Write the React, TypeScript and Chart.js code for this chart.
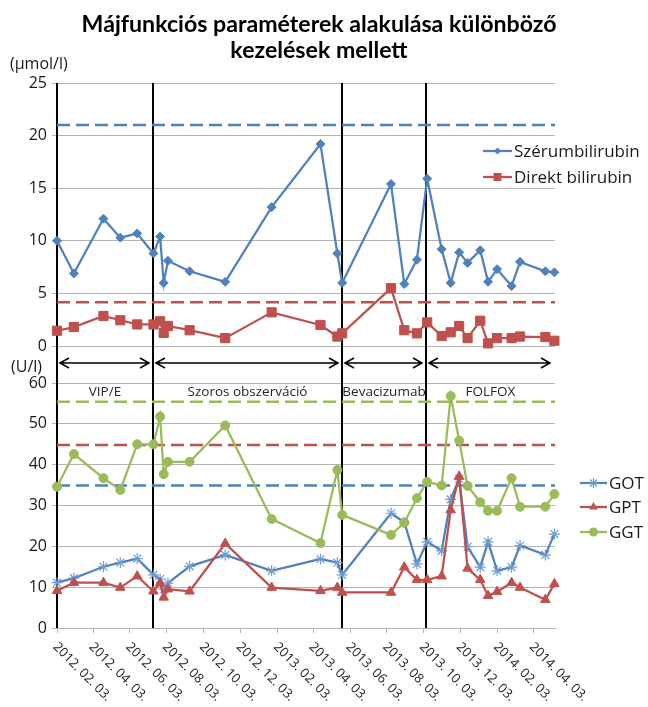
import React, { useEffect, useRef } from "react";
import { Chart, registerables } from "chart.js";
Chart.register(...registerables);

// ---------- data ----------
const sampleDates = [
  "2012-02-03", "2012-03-02", "2012-04-20", "2012-05-18", "2012-06-15",
  "2012-07-12", "2012-07-23", "2012-07-29", "2012-08-05", "2012-09-10",
  "2012-11-08", "2013-01-24", "2013-04-15", "2013-05-13", "2013-05-21",
  "2013-08-10", "2013-09-01", "2013-09-22", "2013-10-09", "2013-11-02",
  "2013-11-17", "2013-12-01", "2013-12-15", "2014-01-05", "2014-01-18",
  "2014-02-02", "2014-02-26", "2014-03-12", "2014-04-23", "2014-05-08",
];
const serumBilirubin = [10.0, 6.9, 12.1, 10.3, 10.7, 8.8, 10.4, 6.0, 8.1, 7.1, 6.1, 13.2, 19.2, 8.8, 6.0, 15.4, 5.9, 8.2, 15.9, 9.2, 6.0, 8.9, 7.9, 9.1, 6.1, 7.3, 5.7, 8.0, 7.1, 7.0];
const directBilirubin = [1.45, 1.8, 2.85, 2.45, 2.05, 2.05, 2.35, 1.25, 1.9, 1.5, 0.75, 3.2, 2.0, 0.9, 1.2, 5.5, 1.5, 1.2, 2.25, 0.95, 1.3, 1.9, 0.75, 2.4, 0.25, 0.75, 0.75, 0.9, 0.85, 0.5];
const got = [11.1, 12.2, 15.0, 16.0, 17.0, 13.0, 12.0, 9.5, 11.0, 15.1, 17.9, 14.0, 16.9, 16.0, 13.0, 28.1, 25.9, 15.7, 21.1, 18.9, 31.5, 36.5, 19.9, 14.9, 21.1, 14.0, 14.9, 20.2, 17.9, 23.0];
const gpt = [9.1, 11.1, 11.1, 9.9, 12.7, 9.0, 11.0, 7.5, 9.5, 9.0, 20.7, 9.9, 9.1, 9.9, 8.7, 8.7, 14.9, 11.8, 11.8, 12.7, 28.9, 37.1, 14.6, 11.8, 7.9, 8.9, 11.1, 9.9, 6.9, 10.8];
const ggt = [34.6, 42.6, 36.7, 33.8, 45.0, 45.0, 51.8, 37.7, 40.7, 40.7, 49.6, 26.7, 20.8, 38.7, 27.7, 22.8, 25.8, 31.8, 35.8, 34.9, 56.8, 45.9, 34.8, 30.8, 28.7, 28.7, 36.7, 29.7, 29.7, 32.8];

// reference (upper limit) levels
const serumLimit = 21;
const directLimit = 4.15;
const ggtLimit = 55.4;
const gptLimit = 44.8;
const gotLimit = 34.9;

const periodStarts = ["2012-02-03", "2012-07-12", "2013-05-20", "2013-10-07"];
const periodLabels = ["VIP/E", "Szoros obszerváció", "Bevacizumab", "FOLFOX"];
const xTickLabels = [
  "2012. 02. 03.", "2012. 04. 03.", "2012. 06. 03.", "2012. 08. 03.", "2012. 10. 03.",
  "2012. 12. 03.", "2013. 02. 03.", "2013. 04. 03.", "2013. 06. 03.", "2013. 08. 03.",
  "2013. 10. 03.", "2013. 12. 03.", "2014. 02. 03.", "2014. 04. 03.",
];
const axisStart = "2012-02-03";
const axisEnd = "2014-05-09";

const titleLines = ["Májfunkciós paraméterek alakulása különböző", "kezelések mellett"];
const topUnit = "(µmol/l)";
const bottomUnit = "(U/l)";

// ---------- helpers ----------
const ORIGIN = Date.UTC(2012, 1, 3);
const day = (s: string) => {
  const [y, m, d] = s.split(/[-. ]+/).filter(Boolean).map(Number);
  return Math.round((Date.UTC(y, m - 1, d) - ORIGIN) / 86400000);
};
const xMin = day(axisStart);
const xMax = day(axisEnd);

const BLUE = "#4f81bd";
const RED = "#c0504d";
const GREEN = "#9bbb59";
const STAR = "#6f9bd3";
const GRID = "#b4b4b4";
const TEXT = "#1a1a1a";
const FONT = "'Open Sans', sans-serif";

const series = (vals: number[]) => sampleDates.map((d, i) => ({ x: day(d), y: vals[i] }));
const refLine = (v: number, color: string) => ({
  label: "",
  data: [{ x: xMin, y: v }, { x: xMax, y: v }],
  borderColor: color,
  borderWidth: 2.5,
  borderDash: [13, 6],
  pointRadius: 0,
  order: 10,
  clip: false as any,
});

function drawLegendItem(ctx: CanvasRenderingContext2D, x1: number, x2: number, y: number, color: string, marker: string, text: string, mColor?: string) {
  ctx.save();
  ctx.strokeStyle = color;
  ctx.lineWidth = 2.25;
  ctx.beginPath();
  ctx.moveTo(x1, y);
  ctx.lineTo(x2, y);
  ctx.stroke();
  const cx = (x1 + x2) / 2;
  ctx.fillStyle = color;
  ctx.beginPath();
  if (marker === "diamond") {
    const r = 3.5;
    ctx.moveTo(cx - r, y); ctx.lineTo(cx, y - r); ctx.lineTo(cx + r, y); ctx.lineTo(cx, y + r); ctx.closePath(); ctx.fill();
  } else if (marker === "square") {
    ctx.rect(cx - 4, y - 4, 8, 8); ctx.fill();
  } else if (marker === "triangle") {
    const r = 5;
    ctx.moveTo(cx, y - r); ctx.lineTo(cx + r * 0.866, y + r / 2); ctx.lineTo(cx - r * 0.866, y + r / 2); ctx.closePath(); ctx.fill();
  } else if (marker === "circle") {
    ctx.arc(cx, y, 4.5, 0, Math.PI * 2); ctx.fill();
  } else if (marker === "star") {
    ctx.strokeStyle = mColor || color;
    ctx.lineWidth = 1.2;
    const r = 5;
    for (let k = 0; k < 4; k++) {
      const a = (k * Math.PI) / 4;
      ctx.moveTo(cx - Math.cos(a) * r, y - Math.sin(a) * r);
      ctx.lineTo(cx + Math.cos(a) * r, y + Math.sin(a) * r);
    }
    ctx.stroke();
  }
  ctx.fillStyle = TEXT;
  ctx.font = `17px ${FONT}`;
  ctx.textAlign = "left";
  ctx.textBaseline = "middle";
  ctx.fillText(text, x2 + 2, y + 1);
  ctx.restore();
}

function drawVerticals(chart: any, yFrom: number, yTo: number) {
  const ctx = chart.ctx as CanvasRenderingContext2D;
  const xs = chart.scales.x;
  ctx.save();
  ctx.strokeStyle = "#000";
  ctx.lineWidth = 2;
  periodStarts.forEach((d) => {
    const px = Math.round(xs.getPixelForValue(day(d)));
    ctx.beginPath();
    ctx.moveTo(px, yFrom);
    ctx.lineTo(px, yTo);
    ctx.stroke();
  });
  ctx.restore();
}

function drawArrow(ctx: CanvasRenderingContext2D, a: number, b: number, y: number) {
  ctx.save();
  ctx.strokeStyle = "#000";
  ctx.lineWidth = 1.5;
  ctx.beginPath();
  ctx.moveTo(a, y); ctx.lineTo(b, y);
  ctx.moveTo(a + 9, y - 5); ctx.lineTo(a, y); ctx.lineTo(a + 9, y + 5);
  ctx.moveTo(b - 9, y - 5); ctx.lineTo(b, y); ctx.lineTo(b - 9, y + 5);
  ctx.stroke();
  ctx.restore();
}

const yAxisCommon = (min: number, max: number, step: number) => ({
  min,
  max,
  ticks: { stepSize: step, color: TEXT, font: { family: FONT, size: 16 }, padding: 5 },
  grid: { color: GRID, lineWidth: 1, tickLength: 5, drawTicks: true },
  border: { display: false },
  afterFit: (s: any) => { s.width = 57; },
});

export default function App() {
  const topRef = useRef<HTMLCanvasElement>(null);
  const botRef = useRef<HTMLCanvasElement>(null);

  useEffect(() => {
    const topPlugin = {
      id: "topDecor",
      beforeDatasetsDraw(chart: any) {
        drawVerticals(chart, chart.chartArea.top, chart.height);
      },
      afterDraw(chart: any) {
        const ctx = chart.ctx as CanvasRenderingContext2D;
        ctx.save();
        // title
        ctx.font = `bold 21px Lato, sans-serif`;
        const w = ctx.measureText(titleLines[0]).width;
        const size = (21 * 475) / w;
        ctx.font = `bold ${size.toFixed(2)}px Lato, sans-serif`;
        ctx.fillStyle = "#000";
        ctx.textAlign = "center";
        ctx.textBaseline = "alphabetic";
        ctx.fillText(titleLines[0], 319, 32);
        ctx.fillText(titleLines[1], 319, 58);
        // unit
        ctx.font = `16px ${FONT}`;
        ctx.fillStyle = TEXT;
        ctx.textAlign = "left";
        ctx.textBaseline = "middle";
        ctx.fillText(topUnit, 10, 64);
        ctx.restore();
        drawLegendItem(ctx, 483, 512, 151, BLUE, "diamond", "Szérumbilirubin");
        drawLegendItem(ctx, 483, 512, 177, RED, "square", "Direkt bilirubin");
      },
    };

    const top = new Chart(topRef.current!, {
      type: "line",
      data: {
        datasets: [
          {
            label: "Szérumbilirubin", data: series(serumBilirubin), borderColor: BLUE, backgroundColor: BLUE,
            borderWidth: 2.25, pointStyle: "rectRot", pointRadius: 4.5, pointBorderWidth: 1, order: 2, clip: false as any,
          },
          {
            label: "Direkt bilirubin", data: series(directBilirubin), borderColor: RED, backgroundColor: RED,
            borderWidth: 2.25, pointStyle: "rect", pointRadius: 6.5, pointBorderWidth: 1, order: 1, clip: false as any,
          },
          refLine(serumLimit, BLUE),
          refLine(directLimit, RED),
        ] as any,
      },
      options: {
        animation: false,
        responsive: false,
        events: [],
        layout: { padding: { left: 0, right: 93, top: 83, bottom: 19 } },
        plugins: { legend: { display: false }, tooltip: { enabled: false }, title: { display: false } },
        scales: {
          x: { type: "linear", min: xMin, max: xMax, display: false },
          y: yAxisCommon(0, 25, 5) as any,
        },
      },
      plugins: [topPlugin],
    });

    const botPlugin = {
      id: "botDecor",
      beforeDatasetsDraw(chart: any) {
        drawVerticals(chart, 0, chart.chartArea.bottom);
      },
      afterDraw(chart: any) {
        const ctx = chart.ctx as CanvasRenderingContext2D;
        const xs = chart.scales.x;
        const area = chart.chartArea;
        const bx = periodStarts.map((d) => Math.round(xs.getPixelForValue(day(d))));
        const ends = [...bx.slice(1), area.right];
        // arrows
        bx.forEach((b, i) => {
          const a = b + 3;
          const e = i === bx.length - 1 ? ends[i] - 5 : ends[i] - 4;
          drawArrow(ctx, a, e, 13);
        });
        ctx.save();
        // period labels
        ctx.font = `13.5px ${FONT}`;
        ctx.fillStyle = "#262626";
        ctx.textAlign = "center";
        ctx.textBaseline = "middle";
        periodLabels.forEach((l, i) => {
          ctx.fillText(l, (bx[i] + ends[i]) / 2, 42);
        });
        // unit
        ctx.font = `16px ${FONT}`;
        ctx.fillStyle = TEXT;
        ctx.textAlign = "left";
        ctx.fillText(bottomUnit, 11, 17);
        // x tick labels
        ctx.font = `13px ${FONT}`;
        xTickLabels.forEach((l) => {
          const px = xs.getPixelForValue(day(l));
          ctx.save();
          ctx.translate(px - 2, area.bottom + 17);
          ctx.rotate(Math.PI / 4);
          ctx.textAlign = "left";
          ctx.textBaseline = "middle";
          ctx.fillText(l, 0, 0);
          ctx.restore();
        });
        ctx.restore();
        drawLegendItem(ctx, 580, 607, 133, BLUE, "star", "GOT", STAR);
        drawLegendItem(ctx, 580, 607, 157, RED, "triangle", "GPT");
        drawLegendItem(ctx, 580, 607, 182, GREEN, "circle", "GGT");
      },
    };

    const bot = new Chart(botRef.current!, {
      type: "line",
      data: {
        datasets: [
          {
            label: "GOT", data: series(got), borderColor: BLUE, backgroundColor: STAR, pointBorderColor: STAR,
            borderWidth: 2.25, pointStyle: "star", pointRadius: 5.5, pointBorderWidth: 1.2, order: 3, clip: false as any,
          },
          {
            label: "GPT", data: series(gpt), borderColor: RED, backgroundColor: RED,
            borderWidth: 2.25, pointStyle: "triangle", pointRadius: 5.5, pointBorderWidth: 1, order: 2, clip: false as any,
          },
          {
            label: "GGT", data: series(ggt), borderColor: GREEN, backgroundColor: GREEN,
            borderWidth: 2.25, pointStyle: "circle", pointRadius: 4.5, pointBorderWidth: 1, order: 1, clip: false as any,
          },
          refLine(ggtLimit, GREEN),
          refLine(gptLimit, RED),
          refLine(gotLimit, BLUE),
        ] as any,
      },
      options: {
        animation: false,
        responsive: false,
        events: [],
        layout: { padding: { left: 0, right: 93, top: 33, bottom: 0 } },
        plugins: { legend: { display: false }, tooltip: { enabled: false }, title: { display: false } },
        scales: {
          x: {
            type: "linear",
            min: xMin,
            max: xMax,
            ticks: { display: false },
            grid: { display: true, drawOnChartArea: false, drawTicks: true, tickLength: 5, color: GRID },
            border: { display: true, color: GRID },
            afterBuildTicks: (s: any) => { s.ticks = xTickLabels.map((l) => ({ value: day(l) })); },
            afterFit: (s: any) => { s.height = 79; },
          } as any,
          y: yAxisCommon(0, 60, 10) as any,
        },
      },
      plugins: [botPlugin],
    });

    return () => { top.destroy(); bot.destroy(); };
  }, []);

  return (
    <div style={{ position: "absolute", left: 0, top: 0, width: 648, height: 707, background: "#fff", overflow: "hidden" }}>
      <canvas ref={topRef} width={648} height={365} style={{ position: "absolute", left: 0, top: 0, width: 648, height: 365 }} />
      <canvas ref={botRef} width={648} height={357} style={{ position: "absolute", left: 0, top: 350, width: 648, height: 357 }} />
    </div>
  );
}
